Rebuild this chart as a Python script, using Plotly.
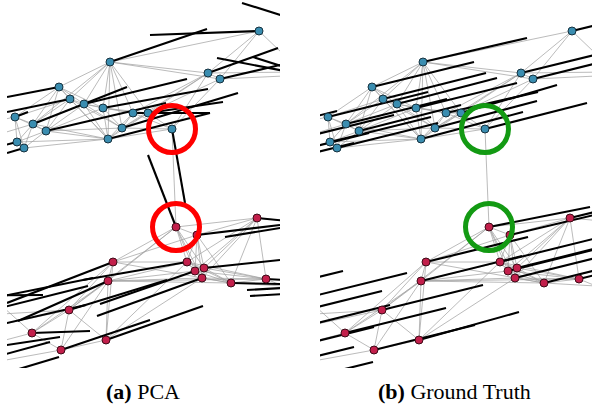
import plotly.graph_objects as go

# ---------------- data (image-pixel-like coordinates, y downward) ----------------
# visible blue cluster nodes
blue_x = [259, 110, 208, 220, 59, 70, 84, 103, 15, 133, 148, 33, 46, 122, 172, 108, 17, 24]
blue_y = [31, 62, 73, 79, 87, 99, 104, 108, 117, 113, 113, 124, 131, 128, 129, 139, 142, 148]
blue_pca_dx = [-109, 97, 70, 60, -52, -63, 103, 105, 13, 77, 75, 94, 120, 116, 13, 102, -12, -17]
blue_pca_dy = [4, -33, -25, -14, 10, 13, -25, -19, -5, 0, -11, -37, -28, -35, 74, -26, 3, 5]
blue_gt_dx = [101, 104, 102, 101, 102, 103, 100, 101, 100, 92, 96, 101, 102, 102, 102, 102, 101, 101]
blue_gt_dy = [-25, -24, -25, -25, -25, -26, -26, -25, -25, -21, -28, -25, -26, -27, -26, -27, -25, -25]

# blue nodes lying outside the cropped view (only their normals enter the view)
hb_x = [300, 305, 300, -77, -20, -45, -60]
hb_y = [21, 75, 72, 136, 140, 158, 168]
hb_pca_dx = [-58, -88, -47, 60, 20, 20, 20]
hb_pca_dy = [-18, -17, -15, -10, -5, -5, -5]
hb_gt_dx = [101, 101, 101, 101, 101, 101, 101]
hb_gt_dy = [-25, -25, -25, -25, -25, -25, -25]

# visible red cluster nodes
red_x = [176, 197, 257, 113, 187, 195, 204, 202, 108, 231, 266, 69, 32, 106, 61]
red_y = [227, 235, 218, 262, 262, 271, 268, 278, 281, 283, 279, 310, 333, 340, 350]
red_pca_dx = [-28, 83, 30, -106, -104, -95, 76, -105, -90, 49, 20, 98, 58, 97, 89]
red_pca_dy = [-72, -10, 3, 41, 18, 33, -8, 38, 40, 1, 1, -30, -2, -34, -30]
red_gt_dx = [101, 101, 101, 102, 101, 101, 101, 101, 101, 101, 101, 101, 101, 100, 101]
red_gt_dy = [-20, -24, -25, -25, -25, -25, -25, -25, -25, -25, -25, -25, -25, -28, -25]

# red nodes outside the view
hr_x = [-71, -7, -32, -24, -40, -60, -41, 310, 300, 300]
hr_y = [296, 298, 316, 330, 352, 372, 387, 223, 287, 293]
hr_pca_dx = [114, 100, 120, 110, 100, 110, 100, -85, -53, -50]
hr_pca_dy = [-1, -20, -30, -25, -15, -30, -30, 14, 3, 3]
hr_gt_dx = [101, 101, 101, 101, 101, 101, 101, 101, 101, 101]
hr_gt_dy = [-25, -25, -25, -25, -25, -25, -25, -25, -25, -25]

# graph edges (node labels)
edges = [
    ("B0", "B2"), ("B0", "B3"), ("B0", "B1"), ("B0", "HB1"), ("B3", "HB1"), ("B2", "HB2"),
    ("B1", "B4"), ("B1", "B5"), ("B1", "B6"), ("B1", "B7"), ("B1", "B9"), ("B1", "B10"),
    ("B1", "B13"), ("B1", "B15"), ("B1", "B2"), ("B1", "B3"), ("B1", "B11"),
    ("B2", "B3"), ("B2", "B10"), ("B2", "B14"), ("B2", "B9"), ("B2", "B13"),
    ("B3", "B14"), ("B3", "B10"),
    ("B4", "B5"), ("B4", "B6"), ("B4", "B7"), ("B4", "B8"), ("B4", "B11"), ("B4", "B12"), ("B4", "B15"),
    ("B5", "B6"), ("B5", "B8"), ("B5", "B11"), ("B5", "B12"), ("B5", "B13"), ("B5", "B15"),
    ("B6", "B7"), ("B6", "B11"), ("B6", "B12"), ("B6", "B13"), ("B6", "B15"), ("B6", "B9"),
    ("B7", "B9"), ("B7", "B10"), ("B7", "B13"), ("B7", "B15"), ("B7", "B12"),
    ("B8", "B11"), ("B8", "B16"), ("B8", "B17"), ("B8", "B12"),
    ("B9", "B10"), ("B9", "B13"), ("B9", "B14"), ("B9", "B15"),
    ("B10", "B13"), ("B10", "B14"), ("B10", "B15"),
    ("B11", "B12"), ("B11", "B16"), ("B11", "B17"), ("B11", "B15"),
    ("B12", "B16"), ("B12", "B17"), ("B12", "B15"), ("B12", "B13"),
    ("B13", "B14"), ("B13", "B15"), ("B15", "B16"), ("B15", "B17"), ("B15", "B14"),
    ("B16", "B17"), ("B8", "HB3"), ("B16", "HB5"), ("B11", "HB4"),
    ("B14", "R0"),
    ("R0", "R1"), ("R0", "R2"), ("R0", "R3"), ("R0", "R4"), ("R0", "R5"), ("R0", "R6"),
    ("R0", "R7"), ("R0", "R8"), ("R0", "R11"),
    ("R1", "R2"), ("R1", "R4"), ("R1", "R5"), ("R1", "R6"), ("R1", "R7"), ("R1", "R9"),
    ("R2", "R4"), ("R2", "R5"), ("R2", "R6"), ("R2", "R7"), ("R2", "R9"), ("R2", "R10"), ("R2", "HR7"),
    ("R3", "R4"), ("R3", "R8"), ("R3", "R11"), ("R3", "R12"), ("R3", "R1"), ("R3", "R13"), ("R3", "R9"),
    ("R4", "R5"), ("R4", "R6"), ("R4", "R7"), ("R4", "R8"), ("R4", "R9"), ("R4", "R13"), ("R4", "R10"),
    ("R5", "R6"), ("R5", "R7"), ("R5", "R8"), ("R5", "R9"), ("R5", "R10"),
    ("R6", "R7"), ("R6", "R9"), ("R6", "R10"),
    ("R7", "R8"), ("R7", "R9"), ("R7", "R10"), ("R7", "R13"),
    ("R8", "R11"), ("R8", "R12"), ("R8", "R13"), ("R8", "R14"), ("R8", "R10"), ("R8", "R9"),
    ("R9", "R10"), ("R9", "HR8"), ("R10", "HR9"),
    ("R11", "R12"), ("R11", "R13"), ("R11", "R14"), ("R11", "HR2"), ("R11", "HR3"),
    ("R12", "R14"), ("R12", "HR1"), ("R12", "HR4"), ("R13", "R14"), ("R14", "HR5"),
]

highlight = ["B14", "R0"]
captions = ["<b>(a)</b> PCA", "<b>(b)</b> Ground Truth"]
circle_colors = ["#ff0000", "#139a13"]

# ---------------- build lookup ----------------
pos = {}
for i, (x, y) in enumerate(zip(blue_x, blue_y)):
    pos[f"B{i}"] = (x, y)
for i, (x, y) in enumerate(zip(hb_x, hb_y)):
    pos[f"HB{i}"] = (x, y)
for i, (x, y) in enumerate(zip(red_x, red_y)):
    pos[f"R{i}"] = (x, y)
for i, (x, y) in enumerate(zip(hr_x, hr_y)):
    pos[f"HR{i}"] = (x, y)

all_x = blue_x + hb_x + red_x + hr_x
all_y = blue_y + hb_y + red_y + hr_y
pca_dx = blue_pca_dx + hb_pca_dx + red_pca_dx + hr_pca_dx
pca_dy = blue_pca_dy + hb_pca_dy + red_pca_dy + hr_pca_dy
gt_dx = blue_gt_dx + hb_gt_dx + red_gt_dx + hr_gt_dx
gt_dy = blue_gt_dy + hb_gt_dy + red_gt_dy + hr_gt_dy

fig = go.Figure()

W, H = 592, 411
plot_h = 368
panels = [
    dict(xa="x", ya="y", dx=pca_dx, dy=pca_dy),
    dict(xa="x2", ya="y2", dx=gt_dx, dy=gt_dy),
]

for k, p in enumerate(panels):
    # gray graph edges
    ex, ey = [], []
    for a, b in edges:
        ex += [pos[a][0], pos[b][0], None]
        ey += [pos[a][1], pos[b][1], None]
    fig.add_trace(go.Scatter(x=ex, y=ey, mode="lines", xaxis=p["xa"], yaxis=p["ya"],
                             line=dict(color="rgba(160,160,160,0.8)", width=0.9),
                             hoverinfo="skip", showlegend=False))
    # black normal segments
    sx, sy = [], []
    for x, y, dx, dy in zip(all_x, all_y, p["dx"], p["dy"]):
        sx += [x, x + dx, None]
        sy += [y, y + dy, None]
    fig.add_trace(go.Scatter(x=sx, y=sy, mode="lines", xaxis=p["xa"], yaxis=p["ya"],
                             line=dict(color="black", width=2.1),
                             hoverinfo="skip", showlegend=False))
    # nodes
    fig.add_trace(go.Scatter(x=blue_x + hb_x, y=blue_y + hb_y, mode="markers",
                             xaxis=p["xa"], yaxis=p["ya"],
                             marker=dict(size=8, color="#3a8db0",
                                         line=dict(color="#17323f", width=1)),
                             hoverinfo="skip", showlegend=False))
    fig.add_trace(go.Scatter(x=red_x + hr_x, y=red_y + hr_y, mode="markers",
                             xaxis=p["xa"], yaxis=p["ya"],
                             marker=dict(size=8, color="#c21f4b",
                                         line=dict(color="#3e0c18", width=1)),
                             hoverinfo="skip", showlegend=False))
    # highlight circles
    fig.add_trace(go.Scatter(x=[pos[h][0] for h in highlight], y=[pos[h][1] for h in highlight],
                             mode="markers", xaxis=p["xa"], yaxis=p["ya"],
                             marker=dict(size=47, symbol="circle-open", color=circle_colors[k],
                                         line=dict(width=5, color=circle_colors[k])),
                             hoverinfo="skip", showlegend=False, cliponaxis=False))

ydom = [1 - plot_h / H, 1]
fig.update_layout(
    width=W, height=H,
    margin=dict(l=0, r=0, t=0, b=0),
    paper_bgcolor="white", plot_bgcolor="white",
    xaxis=dict(domain=[7 / W, 280 / W], range=[7, 280], visible=False, fixedrange=True),
    yaxis=dict(domain=ydom, range=[plot_h, 0], visible=False, fixedrange=True),
    xaxis2=dict(domain=[320 / W, 1], range=[7, 279], visible=False, fixedrange=True),
    yaxis2=dict(domain=ydom, range=[plot_h, 0], visible=False, fixedrange=True),
)

cap_x = [143, 455]
for cx, txt in zip(cap_x, captions):
    fig.add_annotation(x=cx / W, y=1 - 391 / H, xref="paper", yref="paper",
                       text=txt, showarrow=False, xanchor="center", yanchor="middle",
                       font=dict(family="Liberation Serif, Times New Roman, serif", size=22, color="black"))

fig.write_html("out.html")
